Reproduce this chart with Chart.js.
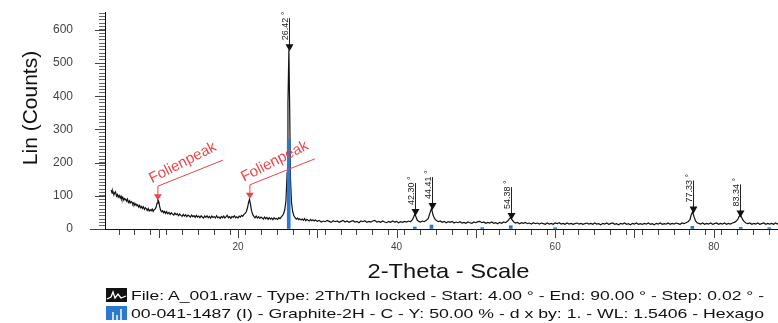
<!DOCTYPE html>
<html>
<head>
<meta charset="utf-8">
<script src="https://cdn.jsdelivr.net/npm/chart.js@4"></script>
<style>
  html, body { margin: 0; padding: 0; background: #fff; }
  #wrap { position: relative; width: 778px; height: 323px; overflow: hidden; }
  .leg { position: absolute; left: 106px; height: 16px; display: flex; align-items: center;
         font-family: "Liberation Sans", Arial, sans-serif; font-size: 13px; color: #111; white-space: nowrap; }
  .leg svg { flex: none; margin-right: 4px; }
  .leg span { display: inline-block; transform-origin: left center; }
</style>
</head>
<body>
<div id="wrap">
  <canvas id="xrd" width="778" height="323"></canvas>
  <div class="leg" style="top:287px">
    <svg width="21" height="14"><rect width="21" height="14" fill="#111"/><polyline points="1,11 5,9 7,4 9,10 12,6 15,10 20,8" fill="none" stroke="#fff" stroke-width="1.3"/></svg>
    <span id="leg1">File: A_001.raw - Type: 2Th/Th locked - Start: 4.00 ° - End: 90.00 ° - Step: 0.02 ° -</span>
  </div>
  <div class="leg" style="top:305px">
    <svg width="21" height="14"><rect width="21" height="14" fill="#2b78d0"/><line x1="7" y1="14" x2="7" y2="6" stroke="#fff" stroke-width="1.5"/><line x1="11" y1="14" x2="11" y2="9" stroke="#fff" stroke-width="1.5"/><line x1="15" y1="14" x2="15" y2="3" stroke="#fff" stroke-width="1.5"/></svg>
    <span id="leg2">00-041-1487 (I) - Graphite-2H - C - Y: 50.00 % - d x by: 1. - WL: 1.5406 - Hexago</span>
  </div>
</div>
<script>
// measured scan: [2-theta, counts]
const scan = [
  [4.00,118],[4.12,108],[4.22,114],[4.35,103],[4.45,109],[4.55,112],[4.68,99],[4.80,104],[4.90,96],[5.02,101],
  [5.15,93],[5.25,99],[5.35,90],[5.48,95],[5.60,87],[5.70,92],[5.82,89],[5.95,84],[6.05,90],[6.18,80],
  [6.30,85],[6.40,78],[6.52,83],[6.65,80],[6.75,74],[6.88,79],[7.00,71],[7.12,76],[7.25,70],[7.35,73],
  [7.48,66],[7.60,71],[7.72,64],[7.85,68],[7.95,62],[8.08,67],[8.20,59],[8.32,64],[8.45,61],[8.55,56],
  [8.68,62],[8.80,54],[8.92,58],[9.05,55],[9.18,60],[9.30,53],[9.42,58],[9.55,60],[9.68,66],[9.80,78],
  [9.90,88],[10.00,84],[10.12,68],[10.25,56],[10.38,52],[10.50,55],[10.62,49],[10.75,53],[10.88,47],[11.00,52],
  [11.15,46],[11.30,50],[11.45,44],[11.60,49],[11.75,45],[11.90,42],[12.05,48],[12.20,43],[12.35,46],[12.50,40],
  [12.65,45],[12.80,41],[12.95,38],[13.10,44],[13.25,39],[13.40,43],[13.55,37],[13.70,42],[13.85,39],[14.00,36],
  [14.15,42],[14.30,37],[14.45,40],[14.60,35],[14.75,41],[14.90,36],[15.05,39],[15.20,34],[15.35,40],[15.50,36],
  [15.65,33],[15.80,39],[15.95,35],[16.10,40],[16.25,34],[16.40,38],[16.55,33],[16.70,39],[16.85,35],[17.00,37],
  [17.15,33],[17.30,40],[17.45,34],[17.60,36],[17.75,32],[17.90,38],[18.05,34],[18.20,39],[18.35,33],[18.50,37],
  [18.65,41],[18.80,34],[18.95,37],[19.10,32],[19.25,38],[19.40,35],[19.55,40],[19.70,34],[19.85,37],[20.00,33],
  [20.15,39],[20.30,36],[20.45,41],[20.60,38],[20.75,44],[20.90,47],[21.05,52],[21.20,64],[21.32,78],[21.45,90],
  [21.58,74],[21.70,56],[21.85,44],[22.00,38],[22.15,34],[22.30,39],[22.45,33],[22.60,37],[22.75,32],[22.90,36],
  [23.05,33],[23.20,30],[23.35,36],[23.50,31],[23.65,35],[23.80,29],[23.95,34],[24.10,30],[24.25,33],[24.40,28],
  [24.55,34],[24.70,30],[24.85,32],[25.00,29],[25.15,34],[25.30,31],[25.45,36],[25.60,40],[25.75,46],[25.90,58],
  [26.05,85],[26.20,170],[26.30,380],[26.42,540],[26.52,360],[26.62,150],[26.75,80],[26.90,52],[27.05,40],[27.20,34],
  [27.35,30],[27.50,33],[27.65,28],[27.80,31],[27.95,27],[28.10,30],[28.25,26],[28.40,31],[28.55,25],[28.70,29],
  [28.85,26],[29.00,24],[29.15,29],[29.30,25],[29.45,28],[29.60,24],[29.75,27],[30.00,23],[30.25,26],[30.50,21],
  [30.75,24],[31.00,22],[31.25,26],[31.50,23],[31.75,20],[32.00,25],[32.25,22],[32.50,24],[32.75,20],[33.00,23],
  [33.25,26],[33.50,21],[33.75,24],[34.00,20],[34.25,23],[34.50,25],[34.75,21],[35.00,23],[35.25,19],[35.50,24],
  [35.75,22],[36.00,25],[36.25,20],[36.50,23],[36.75,21],[37.00,24],[37.25,26],[37.50,21],[37.75,23],[38.00,20],
  [38.25,24],[38.50,21],[38.75,19],[39.00,23],[39.25,20],[39.50,24],[39.75,21],[40.00,23],[40.25,19],[40.50,22],
  [40.75,20],[41.00,23],[41.25,21],[41.50,24],[41.75,22],[42.00,28],[42.15,36],[42.30,45],[42.45,36],[42.60,27],
  [42.80,23],[43.00,21],[43.25,24],[43.50,22],[43.75,26],[44.00,32],[44.20,48],[44.41,62],[44.60,42],[44.80,31],
  [45.00,26],[45.25,22],[45.50,24],[45.75,20],[46.00,23],[46.25,19],[46.50,22],[46.75,20],[47.00,23],[47.25,18],
  [47.50,21],[47.75,19],[48.00,22],[48.25,18],[48.50,20],[48.75,17],[49.00,21],[49.25,19],[49.50,17],[49.75,21],
  [50.00,19],[50.25,22],[50.50,23],[50.75,19],[51.00,21],[51.25,17],[51.50,20],[51.75,18],[52.00,21],[52.25,17],
  [52.50,19],[52.75,16],[53.00,20],[53.25,17],[53.50,21],[53.75,19],[54.00,24],[54.20,30],[54.38,35],[54.55,28],
  [54.75,22],[55.00,18],[55.25,20],[55.50,16],[55.75,19],[56.00,17],[56.25,20],[56.50,16],[56.75,18],[57.00,15],
  [57.25,19],[57.50,16],[57.75,18],[58.00,15],[58.25,18],[58.50,16],[58.75,14],[59.00,18],[59.25,15],[59.50,17],
  [59.75,14],[60.00,18],[60.25,16],[60.50,19],[60.75,15],[61.00,17],[61.25,14],[61.50,18],[61.75,15],[62.00,17],
  [62.25,14],[62.50,16],[62.75,18],[63.00,15],[63.25,17],[63.50,14],[63.75,16],[64.00,18],[64.25,15],[64.50,17],
  [64.75,14],[65.00,18],[65.25,15],[65.50,16],[65.75,13],[66.00,17],[66.25,15],[66.50,18],[66.75,14],[67.00,16],
  [67.25,18],[67.50,14],[67.75,16],[68.00,13],[68.25,17],[68.50,15],[68.75,18],[69.00,14],[69.25,16],[69.50,13],
  [69.75,17],[70.00,15],[70.25,18],[70.50,14],[70.75,16],[71.00,14],[71.25,17],[71.50,15],[71.75,18],[72.00,14],
  [72.25,16],[72.50,13],[72.75,17],[73.00,15],[73.25,18],[73.50,14],[73.75,16],[74.00,15],[74.25,18],[74.50,14],
  [74.75,17],[75.00,15],[75.25,18],[75.50,16],[75.75,14],[76.00,18],[76.25,16],[76.50,19],[76.75,22],[77.00,28],
  [77.15,42],[77.33,52],[77.50,38],[77.70,24],[77.90,19],[78.10,17],[78.35,15],[78.60,18],[78.85,14],[79.10,17],
  [79.35,15],[79.60,18],[79.85,14],[80.10,16],[80.35,18],[80.60,14],[80.85,17],[81.10,15],[81.35,18],[81.60,14],
  [81.85,17],[82.10,15],[82.35,18],[82.60,20],[82.85,24],[83.05,30],[83.20,38],[83.34,42],[83.50,36],[83.65,28],
  [83.85,22],[84.05,18],[84.30,16],[84.55,18],[84.80,14],[85.05,17],[85.30,15],[85.55,18],[85.80,14],[86.05,16],
  [86.30,18],[86.55,14],[86.80,17],[87.05,15],[87.30,17],[87.55,14],[87.80,18],[88.05,15],[88.30,17],[88.55,14],
  [88.80,16]
];

// Graphite-2H reference pattern (00-041-1487)
const refAngles = [26.40, 42.30, 44.40, 50.80, 54.40, 60.00, 77.30, 83.40, 87.00];
const refCounts = [270, 6, 12, 4, 10, 4, 8, 5, 4];

// identified peaks
const peakAngles = [26.42, 42.30, 44.41, 54.38, 77.33, 83.34];
const peakCounts = [545, 48, 66, 36, 56, 44];
const peakLabels = ['26.42 °', '42.30 °', '44.41 °', '54.38 °', '77.33 °', '83.34 °'];

// foil peaks
const foilAngles = [9.9, 21.5];
const foilCounts = [96, 100];
const foilLabel = 'Folienpeak';

const FONT = '"Liberation Sans", Arial, sans-serif';

const xrdMarkers = {
  id: 'xrdMarkers',
  afterDatasetsDraw(chart) {
    const { ctx, scales: { x, y }, chartArea } = chart;
    ctx.save();

    // axis line stub left of the origin, longer ticks every 10 degrees / 100 counts
    ctx.strokeStyle = '#444';
    ctx.lineWidth = 1;
    ctx.beginPath();
    ctx.moveTo(chartArea.left - 15, chartArea.bottom + 0.5);
    ctx.lineTo(chartArea.left, chartArea.bottom + 0.5);
    ctx.stroke();
    for (let v = 10; v <= 80; v += 10) {
      const px = Math.round(x.getPixelForValue(v)) + 0.5;
      ctx.beginPath();
      ctx.moveTo(px, chartArea.bottom);
      ctx.lineTo(px, chartArea.bottom + 9);
      ctx.stroke();
    }
    for (let v = 0; v <= 600; v += 100) {
      const py = Math.round(y.getPixelForValue(v)) + 0.5;
      ctx.beginPath();
      ctx.moveTo(chartArea.left - 10, py);
      ctx.lineTo(chartArea.left, py);
      ctx.stroke();
    }

    // peak markers with vertical labels
    peakAngles.forEach((a, i) => {
      const px = Math.round(x.getPixelForValue(a)) + 0.5;
      const py = y.getPixelForValue(peakCounts[i]);
      ctx.strokeStyle = '#222';
      ctx.lineWidth = 1;
      ctx.beginPath();
      ctx.moveTo(px, py - 30);
      ctx.lineTo(px, py);
      ctx.stroke();
      ctx.fillStyle = '#111';
      ctx.beginPath();
      ctx.moveTo(px - 4, py - 4);
      ctx.lineTo(px + 4, py - 4);
      ctx.lineTo(px, py + 3);
      ctx.closePath();
      ctx.fill();
      ctx.save();
      ctx.translate(px - 2, py - 8);
      ctx.rotate(-Math.PI / 2);
      ctx.font = '9px ' + FONT;
      ctx.textAlign = 'left';
      ctx.textBaseline = 'alphabetic';
      ctx.fillStyle = '#222';
      ctx.fillText(peakLabels[i], 0, 0);
      ctx.restore();
    });

    // foil peak annotations
    foilAngles.forEach((a, i) => {
      const px = x.getPixelForValue(a);
      const py = y.getPixelForValue(foilCounts[i]);
      ctx.strokeStyle = '#e8464b';
      ctx.fillStyle = '#e8464b';
      ctx.lineWidth = 1;
      ctx.beginPath();
      ctx.moveTo(px, py);
      ctx.lineTo(px, py - 11);
      ctx.lineTo(px + 65, py - 37);
      ctx.stroke();
      ctx.beginPath();
      ctx.moveTo(px - 4, py - 3);
      ctx.lineTo(px + 4, py - 3);
      ctx.lineTo(px, py + 3);
      ctx.closePath();
      ctx.fill();
      ctx.save();
      ctx.translate(px - 6, py - 14);
      ctx.rotate(-27 * Math.PI / 180);
      ctx.font = '15px ' + FONT;
      ctx.textBaseline = 'alphabetic';
      ctx.fillText(foilLabel, 0, 0);
      ctx.restore();
    });

    // axis titles
    ctx.fillStyle = '#111';
    ctx.save();
    ctx.translate(31, 108);
    ctx.rotate(-Math.PI / 2);
    ctx.font = '21px ' + FONT;
    ctx.textAlign = 'center';
    ctx.textBaseline = 'middle';
    ctx.fillText('Lin (Counts)', 0, 0);
    ctx.restore();

    ctx.save();
    ctx.font = '21px ' + FONT;
    const w = ctx.measureText('2-Theta - Scale').width;
    ctx.translate((chartArea.left + chartArea.right) / 2 + 7, 272);
    ctx.scale(162 / w, 1);
    ctx.textAlign = 'center';
    ctx.textBaseline = 'middle';
    ctx.fillText('2-Theta - Scale', 0, 0);
    ctx.restore();

    ctx.restore();
  }
};

new Chart(document.getElementById('xrd'), {
  type: 'line',
  data: {
    datasets: [
      {
        type: 'bar',
        label: 'Graphite-2H',
        data: refAngles.map((a, i) => ({ x: a, y: refCounts[i] })),
        backgroundColor: '#2b78d0',
        barThickness: 3,
        order: 0
      },
      {
        label: 'A_001.raw',
        data: scan.map(p => ({ x: p[0], y: p[1] })),
        borderColor: '#111',
        borderWidth: 1.2,
        pointRadius: 0,
        tension: 0,
        order: 1
      }
    ]
  },
  options: {
    responsive: false,
    animation: false,
    devicePixelRatio: 1,
    layout: { padding: { top: 12, right: 0, bottom: 0, left: 0 }, autoPadding: false },
    plugins: { legend: { display: false }, tooltip: { enabled: false } },
    scales: {
      x: {
        type: 'linear',
        min: 3.23,
        max: 88.1,
        offset: false,
        afterFit(s) { s.height = 94; s.paddingLeft = 0; s.paddingRight = 0; },
        border: { display: true, color: '#111', width: 1 },
        grid: { drawOnChartArea: false, drawTicks: true, tickLength: 6, color: '#444' },
        ticks: {
          stepSize: 2, autoSkip: false, maxRotation: 0, includeBounds: false, padding: 6,
          color: '#444', font: { size: 10, family: FONT },
          callback: v => (v % 20 === 0 ? v : '')
        }
      },
      y: {
        min: 0,
        max: 654,
        afterFit(s) { s.width = 105; s.paddingTop = 0; s.paddingBottom = 0; },
        border: { display: true, color: '#111', width: 1 },
        grid: { drawOnChartArea: false, drawTicks: true, tickLength: 6, color: '#666' },
        ticks: {
          stepSize: 10, autoSkip: false, includeBounds: false, padding: 26,
          color: '#444', font: { size: 12, family: FONT },
          callback: v => (v % 100 === 0 ? v : '')
        }
      }
    }
  },
  plugins: [xrdMarkers]
});

// stretch legend lines to the printed width
['leg1', 'leg2'].forEach(id => {
  const el = document.getElementById(id);
  el.style.transform = 'scaleX(' + (633 / el.getBoundingClientRect().width) + ')';
});
</script>
</body>
</html>
